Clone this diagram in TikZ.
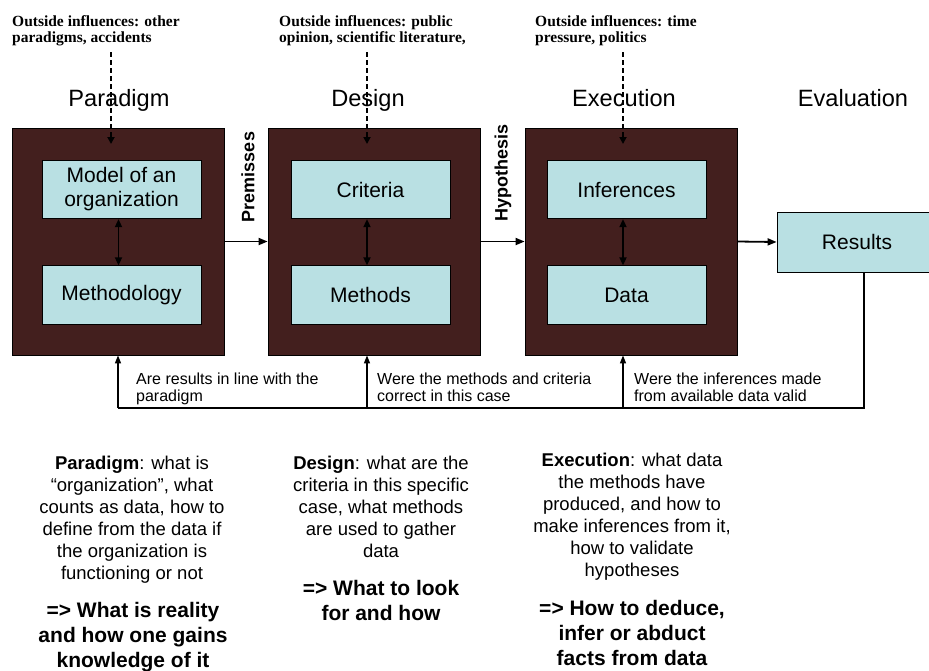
\documentclass[tikz,border=0pt]{standalone}
\usepackage{fontspec}
\setmainfont{Liberation Sans}
\newfontfamily\timesfont{Liberation Serif}
\usetikzlibrary{arrows.meta}
\definecolor{darkbrown}{RGB}{67,31,30}
\definecolor{lightcyan}{RGB}{185,224,227}
\begin{document}
\begin{tikzpicture}[x=1pt,y=-1pt,
  darkbox/.style={draw=black, line width=0.8pt, fill=darkbrown, minimum width=212pt, minimum height=227pt, inner sep=0pt},
  inbox/.style={draw=black, line width=0.8pt, fill=lightcyan, minimum width=159pt, minimum height=58.5pt, font=\fontsize{21}{24}\selectfont, align=center, inner sep=0pt},
  hdr/.style={font=\fontsize{23.6}{28}\selectfont, anchor=base, inner sep=0pt},
  toplbl/.style={font=\timesfont\bfseries\fontsize{15.5}{16.5}\selectfont, align=left, anchor=north west, inner sep=0pt},
  fbtxt/.style={font=\fontsize{16}{17}\selectfont, align=left, anchor=north west, inner sep=0pt},
  desc/.style={font=\fontsize{18.5}{22}\selectfont, align=center, anchor=north, inner sep=0pt},
  descb/.style={font=\bfseries\fontsize{21}{25}\selectfont, align=center, anchor=north, inner sep=0pt},
  side/.style={font=\bfseries\fontsize{18}{20}\selectfont, rotate=90, inner sep=0pt},
  arr/.style={line width=1.8pt, -{Triangle[length=9pt,width=7pt]}},
  dbl/.style={line width=1.8pt, {Triangle[length=8pt,width=7pt]}-{Triangle[length=8pt,width=7pt]}},
  dsh/.style={line width=1.8pt, dash pattern=on 5pt off 3pt, -{Triangle[length=7pt,width=7pt]}},
  fb/.style={line width=1.2pt},
  fbarr/.style={line width=1.4pt, -{Triangle[length=8pt,width=6pt]}}
]
\useasboundingbox (0,0) rectangle (929,670);
\fill[white] (0,0) rectangle (929,670);

% top labels
\node[toplbl] (o1) at (12,15) {Outside influences: other\\paradigms, accidents};
\node[toplbl] (o2) at (279,15) {Outside influences: public\\opinion, scientific literature,};
\node[toplbl] (o3) at (535,15) {Outside influences: time\\pressure, politics};

% headers
\node[hdr] (h1) at (119,106) {Paradigm};
\node[hdr] (h2) at (368,106) {Design};
\node[hdr] (h3) at (624,106) {Execution};
\node[hdr] (h4) at (853,106) {Evaluation};

% dark boxes
\node[darkbox] (P) at (118,241.5) {};
\node[darkbox] (D) at (374,241.5) {};
\node[darkbox] (E) at (631,241.5) {};

% inner boxes
\node[inbox] (m1) at (121.5,189.5) {Model of an\\organization};
\node[inbox] (t1) at (121.5,295) {Methodology};
\node[inbox] (m2) at (370.5,189.5) {Criteria};
\node[inbox] (t2) at (370.5,295) {Methods};
\node[inbox] (m3) at (626.5,189.5) {Inferences};
\node[inbox] (t3) at (626.5,295) {Data};
\node[inbox, minimum width=160pt, minimum height=60pt] (R) at (857,242) {Results};

% double arrows
\draw[dbl] ([xshift=-3pt]m1.south) -- ([xshift=-3pt]t1.north);
\draw[dbl] ([xshift=-3.5pt]m2.south) -- ([xshift=-3.5pt]t2.north);
\draw[dbl] ([xshift=-3.5pt]m3.south) -- ([xshift=-3.5pt]t3.north);

% dashed influence arrows
\coordinate (d1s) at (111,52); \coordinate (d1e) at (111,144);
\coordinate (d2s) at (367,52); \coordinate (d2e) at (367,144);
\coordinate (d3s) at (623,52); \coordinate (d3e) at (623,144);
\draw[dsh] (d1s) -- (d1e);
\draw[dsh] (d2s) -- (d2e);
\draw[dsh] (d3s) -- (d3e);

% horizontal arrows
\draw[arr] (P.east) -- (D.west);
\draw[arr] (E.west -| D.east) -- (E.west);
\draw[arr] (E.east) -- (R.west);
\node[side] (prem) at (248,177) {Premisses};
\node[side] (hyp) at (503,172.5) {Hypothesis};

% feedback loop
\coordinate (rl) at (864,408);
\coordinate (f1) at (118,408);
\coordinate (f2) at (367,408);
\coordinate (f3) at (623,408);
\draw[fb] (R.south -| rl) -- (rl) -- (f1);
\draw[fbarr] (f1) -- (P.south -| f1);
\draw[fbarr] (f2) -- (D.south -| f2);
\draw[fbarr] (f3) -- (E.south -| f3);
\node[fbtxt] (q1) at (136,373) {Are results in line with the\\paradigm};
\node[fbtxt] (q2) at (377,373) {Were the methods and criteria\\correct in this case};
\node[fbtxt] (q3) at (634,373) {Were the inferences made\\from available data valid};

% descriptions
\node[desc] (dp) at (132,456) {\textbf{Paradigm}: what is\\“organization”, what\\counts as data, how to\\define from the data if\\the organization is\\functioning or not};
\node[descb] (bp) at (133,602) {=> What is reality\\and how one gains\\knowledge of it};
\node[desc] (dd) at (381,456) {\textbf{Design}: what are the\\criteria in this specific\\case, what methods\\are used to gather\\data};
\node[descb] (bd) at (381,580) {=> What to look\\for and how};
\node[desc] (de) at (632,453) {\textbf{Execution}: what data\\the methods have\\produced, and how to\\make inferences from it,\\how to validate\\hypotheses};
\node[descb] (be) at (632,600) {=> How to deduce,\\infer or abduct\\facts from data};
\end{tikzpicture}
\end{document}
